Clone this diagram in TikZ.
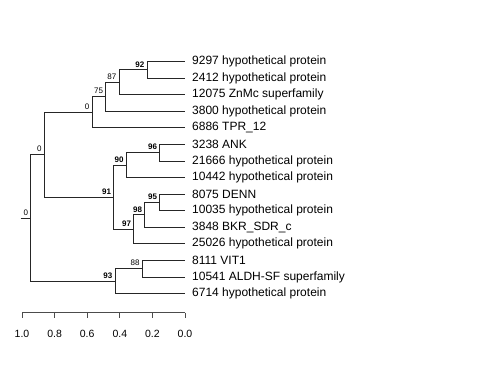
\documentclass[tikz,border=0pt]{standalone}
\usepackage{fontspec}
\setmainfont{Liberation Sans}
\begin{document}
\begin{tikzpicture}[x=1pt,y=-1pt,
  edge/.style={draw=black!85,line width=0.8pt},
  leaflab/.style={anchor=west,inner sep=0pt,font=\fontsize{12}{14}\selectfont},
  bs/.style={anchor=south east,inner sep=0pt,font=\fontsize{8}{9}\selectfont\bfseries},
  ns/.style={anchor=south east,inner sep=0pt,font=\fontsize{8}{9}\selectfont},
  axlab/.style={anchor=center,inner sep=0pt,font=\fontsize{10.5}{12}\selectfont}]
\useasboundingbox (0,0) rectangle (480,384);
% leaves
\foreach \i/\t in {0/9297 hypothetical protein,1/2412 hypothetical protein,2/12075 ZnMc superfamily,3/3800 hypothetical protein,4/6886 TPR\_12,5/3238 ANK,6/21666 hypothetical protein,7/10442 hypothetical protein,8/8075 DENN,9/10035 hypothetical protein,10/3848 BKR\_SDR\_c,11/25026 hypothetical protein,12/8111 VIT1,13/10541 ALDH-SF superfamily,14/6714 hypothetical protein}{
  \coordinate (L\i) at (185,{61.5+16.57*\i});
  \node[leaflab] (T\i) at (192,{61.5+16.57*\i}) {\t};
}
% internal nodes
\coordinate (n92) at (147,69.8);
\coordinate (n87) at (119,82.2);
\coordinate (n75) at (105.7,96.7);
\coordinate (n0a) at (92,112.2);
\coordinate (n96) at (159.7,152.7);
\coordinate (n90) at (126.3,165.1);
\coordinate (n95) at (159.7,202.4);
\coordinate (n98) at (144.7,214.8);
\coordinate (n97) at (133.7,229.3);
\coordinate (n91) at (113.7,197.2);
\coordinate (n0b) at (44.3,154.7);
\coordinate (n88) at (142.3,268.7);
\coordinate (n93) at (115,281.1);
\coordinate (root) at (30.3,217.9);
\coordinate (stub) at (20.7,217.9);
% edges
\draw[edge] (n92) |- (L0); \draw[edge] (n92) |- (L1);
\draw[edge] (n87) |- (n92); \draw[edge] (n87) |- (L2);
\draw[edge] (n75) |- (n87); \draw[edge] (n75) |- (L3);
\draw[edge] (n0a) |- (n75); \draw[edge] (n0a) |- (L4);
\draw[edge] (n96) |- (L5); \draw[edge] (n96) |- (L6);
\draw[edge] (n90) |- (n96); \draw[edge] (n90) |- (L7);
\draw[edge] (n95) |- (L8); \draw[edge] (n95) |- (L9);
\draw[edge] (n98) |- (n95); \draw[edge] (n98) |- (L10);
\draw[edge] (n97) |- (n98); \draw[edge] (n97) |- (L11);
\draw[edge] (n91) |- (n90); \draw[edge] (n91) |- (n97);
\draw[edge] (n0b) |- (n0a); \draw[edge] (n0b) |- (n91);
\draw[edge] (n88) |- (L12); \draw[edge] (n88) |- (L13);
\draw[edge] (n93) |- (n88); \draw[edge] (n93) |- (L14);
\draw[edge] (root) |- (n0b); \draw[edge] (root) |- (n93);
\draw[edge] (stub) -- (root);
% support labels
\node[bs] (s92) at ([shift={(-2.5,-2.5)}]n92) {92};
\node[ns] (s87) at ([shift={(-2.5,-2.5)}]n87) {87};
\node[ns] (s75) at ([shift={(-2.5,-2.5)}]n75) {75};
\node[ns] (s0a) at ([shift={(-2.5,-2.5)}]n0a) {0};
\node[bs] (s96) at ([shift={(-2.5,-2.5)}]n96) {96};
\node[bs] (s90) at ([shift={(-2.5,-2.5)}]n90) {90};
\node[bs] (s95) at ([shift={(-2.5,-2.5)}]n95) {95};
\node[bs] (s98) at ([shift={(-2.5,-2.5)}]n98) {98};
\node[bs] (s97) at ([shift={(-2.5,-2.5)}]n97) {97};
\node[bs] (s91) at ([shift={(-2.5,-2.5)}]n91) {91};
\node[ns] (s0b) at ([shift={(-2.5,-2.5)}]n0b) {0};
\node[ns] (s88) at ([shift={(-2.5,-2.5)}]n88) {88};
\node[bs] (s93) at ([shift={(-2.5,-2.5)}]n93) {93};
\node[ns] (s0r) at ([shift={(-2,-2.5)}]root) {0};
% axis
\coordinate (ax0) at (22,312.7);
\coordinate (ax1) at (185,312.7);
\draw[edge,draw=black!70] (ax0) -- (ax1);
\foreach \k/\v in {0/1.0,1/0.8,2/0.6,3/0.4,4/0.2,5/0.0}{
  \coordinate (tk\k) at ({22+32.6*\k},312.7);
  \draw[edge,draw=black!70] (tk\k) -- ++(0,5);
  \node[axlab] (al\k) at ({22+32.6*\k},334) {\v};
}
\end{tikzpicture}
\end{document}
